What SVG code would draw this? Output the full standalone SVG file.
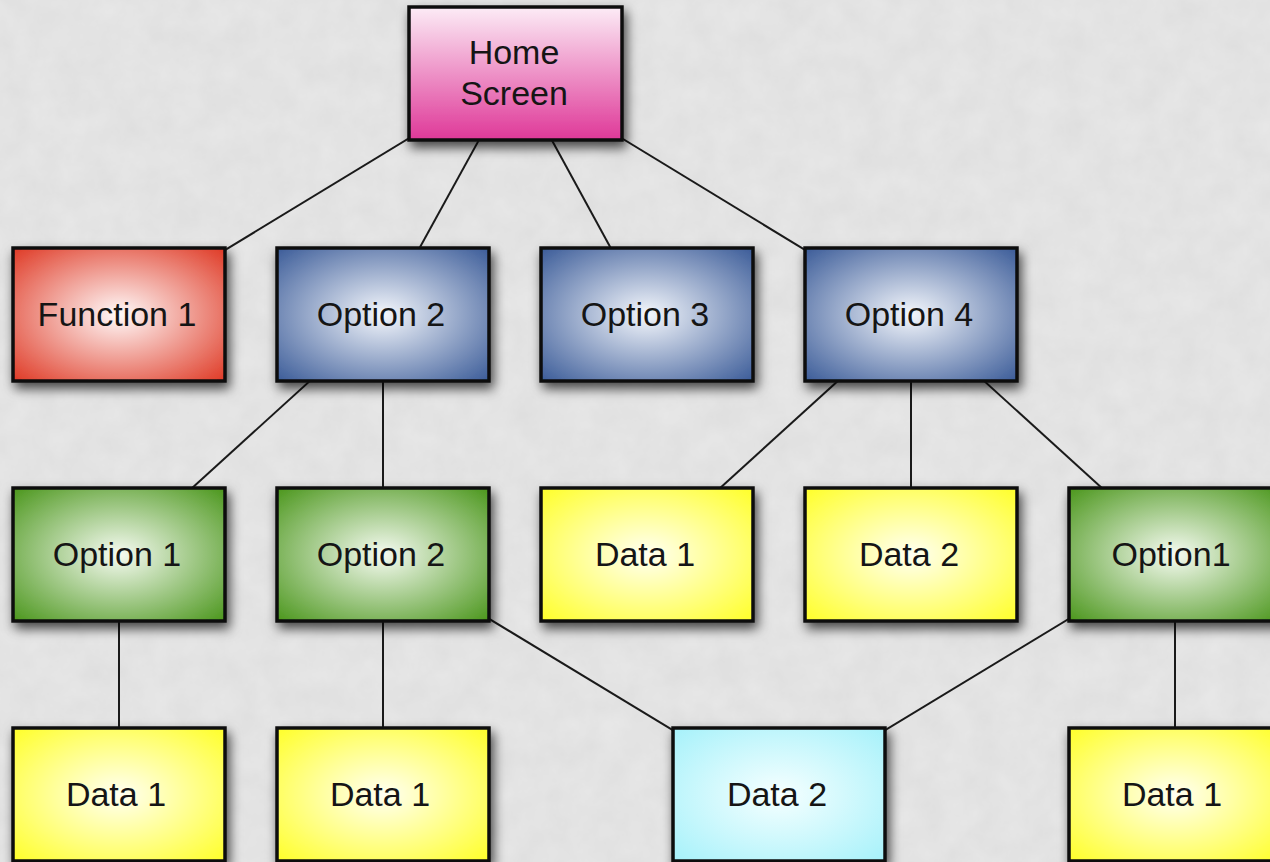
<svg xmlns="http://www.w3.org/2000/svg" width="1270" height="862" viewBox="0 0 1270 862">
  <defs>
    <style>
      .box { stroke: #0d0d0d; stroke-width: 3.5; filter: url(#shadow); }
      .lbl { font-family: "Liberation Sans", Arial, sans-serif; font-size: 34px; fill: #151515; text-anchor: middle; }
      .link { stroke: #1a1a1a; stroke-width: 2; fill: none; }
    </style>
    <filter id="shadow" x="-20%" y="-20%" width="150%" height="150%">
      <feDropShadow dx="3" dy="6" stdDeviation="6" flood-color="#000" flood-opacity="0.7"/>
    </filter>
    <filter id="paper" x="0" y="0" width="100%" height="100%">
      <feTurbulence type="fractalNoise" baseFrequency="0.035" numOctaves="4" seed="7" result="n"/>
      <feColorMatrix in="n" type="matrix" values="0 0 0 0 0.5  0 0 0 0 0.5  0 0 0 0 0.5  0 0 0 0.22 0"/>
    </filter>
    <linearGradient id="gPink" x1="0" y1="0" x2="0" y2="1">
      <stop offset="0" stop-color="#fcecf6"/>
      <stop offset="1" stop-color="#df3898"/>
    </linearGradient>
    <radialGradient id="gRed" cx="0.5" cy="0.5" r="0.72">
      <stop offset="0" stop-color="#fffafa"/>
      <stop offset="1" stop-color="#de3520"/>
    </radialGradient>
    <radialGradient id="gBlue" cx="0.5" cy="0.5" r="0.72">
      <stop offset="0" stop-color="#f4f7fc"/>
      <stop offset="1" stop-color="#375896"/>
    </radialGradient>
    <radialGradient id="gGreen" cx="0.5" cy="0.5" r="0.72">
      <stop offset="0" stop-color="#f6fbf2"/>
      <stop offset="1" stop-color="#479417"/>
    </radialGradient>
    <radialGradient id="gYellow" cx="0.5" cy="0.5" r="0.72">
      <stop offset="0" stop-color="#fffff2"/>
      <stop offset="1" stop-color="#ffff24"/>
    </radialGradient>
    <radialGradient id="gCyan" cx="0.5" cy="0.5" r="0.72">
      <stop offset="0" stop-color="#f6ffff"/>
      <stop offset="1" stop-color="#a4f1fa"/>
    </radialGradient>
  </defs>

  <!-- paper background -->
  <rect width="1270" height="862" fill="#e8e8e8"/>
  <rect width="1270" height="862" filter="url(#paper)"/>

  <!-- connectors, centre to centre, drawn beneath the boxes -->
  <g id="connectors">
    <line class="link" x1="515.5" y1="73.5" x2="119" y2="314.5"/>
    <line class="link" x1="515.5" y1="73.5" x2="383" y2="314.5"/>
    <line class="link" x1="515.5" y1="73.5" x2="647" y2="314.5"/>
    <line class="link" x1="515.5" y1="73.5" x2="911" y2="314.5"/>
    <line class="link" x1="383" y1="314.5" x2="119" y2="554.5"/>
    <line class="link" x1="383" y1="314.5" x2="383" y2="554.5"/>
    <line class="link" x1="911" y1="314.5" x2="647" y2="554.5"/>
    <line class="link" x1="911" y1="314.5" x2="911" y2="554.5"/>
    <line class="link" x1="911" y1="314.5" x2="1175" y2="554.5"/>
    <line class="link" x1="119" y1="554.5" x2="119" y2="794.5"/>
    <line class="link" x1="383" y1="554.5" x2="383" y2="794.5"/>
    <line class="link" x1="383" y1="554.5" x2="779" y2="794.5"/>
    <line class="link" x1="1175" y1="554.5" x2="779" y2="794.5"/>
    <line class="link" x1="1175" y1="554.5" x2="1175" y2="794.5"/>
  </g>

  <g id="home">
    <rect class="box" x="409" y="7" width="213" height="133" fill="url(#gPink)"/>
    <text class="lbl" x="514" y="64">Home</text>
    <text class="lbl" x="514" y="105">Screen</text>
  </g>

  <g id="function1">
    <rect class="box" x="13" y="248" width="212" height="133" fill="url(#gRed)"/>
    <text class="lbl" x="117" y="326">Function 1</text>
  </g>
  <g id="option2">
    <rect class="box" x="277" y="248" width="212" height="133" fill="url(#gBlue)"/>
    <text class="lbl" x="381" y="326">Option 2</text>
  </g>
  <g id="option3">
    <rect class="box" x="541" y="248" width="212" height="133" fill="url(#gBlue)"/>
    <text class="lbl" x="645" y="326">Option 3</text>
  </g>
  <g id="option4">
    <rect class="box" x="805" y="248" width="212" height="133" fill="url(#gBlue)"/>
    <text class="lbl" x="909" y="326">Option 4</text>
  </g>

  <g id="option2-option1">
    <rect class="box" x="13" y="488" width="212" height="133" fill="url(#gGreen)"/>
    <text class="lbl" x="117" y="566">Option 1</text>
  </g>
  <g id="option2-option2">
    <rect class="box" x="277" y="488" width="212" height="133" fill="url(#gGreen)"/>
    <text class="lbl" x="381" y="566">Option 2</text>
  </g>
  <g id="option4-data1">
    <rect class="box" x="541" y="488" width="212" height="133" fill="url(#gYellow)"/>
    <text class="lbl" x="645" y="566">Data 1</text>
  </g>
  <g id="option4-data2">
    <rect class="box" x="805" y="488" width="212" height="133" fill="url(#gYellow)"/>
    <text class="lbl" x="909" y="566">Data 2</text>
  </g>
  <g id="option4-option1">
    <rect class="box" x="1069" y="488" width="212" height="133" fill="url(#gGreen)"/>
    <text class="lbl" x="1171" y="566">Option1</text>
  </g>

  <g id="option1-data1">
    <rect class="box" x="13" y="728" width="212" height="133" fill="url(#gYellow)"/>
    <text class="lbl" x="116" y="806">Data 1</text>
  </g>
  <g id="option2-data1">
    <rect class="box" x="277" y="728" width="212" height="133" fill="url(#gYellow)"/>
    <text class="lbl" x="380" y="806">Data 1</text>
  </g>
  <g id="shared-data2">
    <rect class="box" x="673" y="728" width="212" height="133" fill="url(#gCyan)"/>
    <text class="lbl" x="777" y="806">Data 2</text>
  </g>
  <g id="option1b-data1">
    <rect class="box" x="1069" y="728" width="212" height="133" fill="url(#gYellow)"/>
    <text class="lbl" x="1172" y="806">Data 1</text>
  </g>
</svg>
